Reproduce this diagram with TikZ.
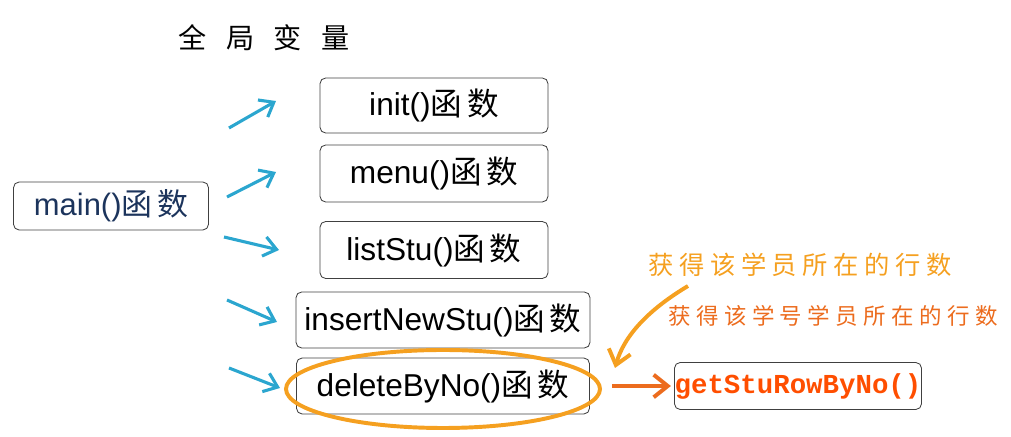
\documentclass[tikz,border=0pt]{standalone}
\usepackage{fontspec}
\setmainfont{Liberation Sans}
\newfontfamily\cjk{Noto Sans CJK SC}
\newfontfamily\codefont{Liberation Mono}
\usetikzlibrary{arrows.meta}

\definecolor{setaazul}{RGB}{43,166,207}
\definecolor{azulmain}{RGB}{28,52,92}
\definecolor{laranja}{RGB}{245,160,32}
\definecolor{laranjaesc}{RGB}{236,108,30}
\definecolor{vermelhocod}{RGB}{255,78,0}

\tikzset{
  fnbox/.style={draw=black!75, line width=0.6pt, rounded corners=4pt,
    minimum height=1.4cm, inner sep=0pt, font=\fontsize{22.5}{26}\selectfont},
  setab/.style={setaazul, line width=2.2pt, -{Straight Barb[length=9pt, width=14pt, line width=2.2pt]}},
  setal/.style={line width=2.8pt, -{Straight Barb[length=10pt, width=16pt, line width=2.8pt]}}
}

\begin{document}
\begin{tikzpicture}
        % 1. MOLDURA
        \useasboundingbox (0,0) rectangle (25.275,-10.925);

        % ==========================================
        % 2. TITULO
        % ==========================================
        \node (titulo) at (6.6,-0.95) {\cjk\fontsize{20}{22}\selectfont 全\hspace{0.7em}局\hspace{0.7em}变\hspace{0.7em}量};

        % ==========================================
        % 3. FUNCOES
        % ==========================================
        \node[fnbox, minimum width=4.875cm, minimum height=1.2cm, text=azulmain, font=\fontsize{22}{24}\selectfont] (main) at (2.775,-5.15) {main(){\cjk 函\hspace{0.15em}数}};

        \node[fnbox, minimum width=5.7cm, minimum height=1.375cm] (init) at (10.85,-2.6375) {init(){\cjk 函\hspace{0.15em}数}};
        \node[fnbox, minimum width=5.7cm, minimum height=1.425cm] (menu) at (10.85,-4.3375) {menu(){\cjk 函\hspace{0.15em}数}};
        \node[fnbox, minimum width=5.7cm, minimum height=1.425cm] (list) at (10.85,-6.25) {listStu(){\cjk 函\hspace{0.15em}数}};
        \node[fnbox, minimum width=7.35cm] (insert) at (11.075,-8.0) {insertNewStu(){\cjk 函\hspace{0.15em}数}};
        \node[fnbox, minimum width=7.325cm] (delete) at (11.075,-9.65) {deleteByNo(){\cjk 函\hspace{0.15em}数}};

        \node[fnbox, minimum width=6.175cm, minimum height=1.175cm, text=vermelhocod, font=\codefont\bfseries\fontsize{19.5}{22}\selectfont] (getrow) at (19.95,-9.65) {getStuRowByNo()};

        % ==========================================
        % 4. SETAS AZUIS (main -> funcoes)
        % ==========================================
        \coordinate (a1) at (5.725,-3.2);   \coordinate (b1) at (6.9,-2.525);
        \coordinate (a2) at (5.675,-4.925); \coordinate (b2) at (6.9,-4.3);
        \coordinate (a3) at (5.6,-5.925);   \coordinate (b3) at (6.975,-6.25);
        \coordinate (a4) at (5.675,-7.5);   \coordinate (b4) at (6.925,-8.05);
        \coordinate (a5) at (5.725,-9.2);   \coordinate (b5) at (7.0,-9.7);
        \foreach \i in {1,...,5}
          \draw[setab] (a\i) -- (b\i);

        % ==========================================
        % 5. DESTAQUE, ROTULOS E CHAMADA
        % ==========================================
        \draw[laranja, line width=2.8pt] ([yshift=-0.075cm]delete.center) ellipse[x radius=3.925cm, y radius=0.975cm];

        \node[laranja] (rot1) at (20.0,-6.625) {\cjk\fontsize{18}{20}\selectfont\addfontfeature{LetterSpace=22}获得该学员所在的行数};
        \node[laranjaesc] (rot2) at (20.825,-7.9) {\cjk\fontsize{16}{18}\selectfont\addfontfeature{LetterSpace=24}获得该学号学员所在的行数};

        \coordinate (c0) at (17.2,-7.15);
        \coordinate (c1) at (15.375,-9.2);
        \draw[laranja, setal] (c0) .. controls (16.2,-7.75) and (15.6,-8.4) .. (c1);

        \draw[laranjaesc, setal] ([xshift=0.55cm]delete.east) -- ([xshift=-0.08cm]getrow.west);

    \end{tikzpicture}
\end{document}
